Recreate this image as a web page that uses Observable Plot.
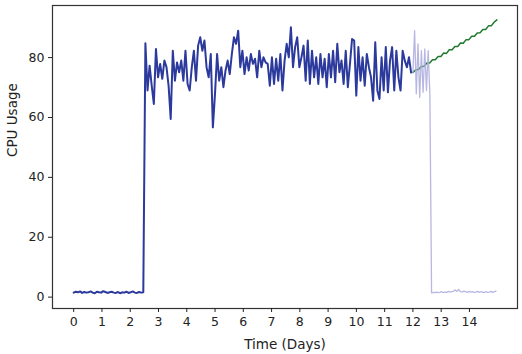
<!DOCTYPE html>
<html>
<head>
<meta charset="utf-8">
<script src="https://cdn.jsdelivr.net/npm/d3@7"></script>
<script src="https://cdn.jsdelivr.net/npm/@observablehq/plot@0.6"></script>
<style>
  html, body { margin: 0; padding: 0; background: #fff; }
  #chart { width: 522px; height: 354px; }
</style>
</head>
<body>
<div id="chart"></div>
<script>
// Observed CPU usage (blue), sampled every blueStep days starting at day 0
const blueStart = 0;
const blueStep = 0.0746;
const blueValues = [
  1.5,1.8,1.6,1.9,1.4,1.7,1.5,1.6,1.9,1.5,1.3,1.8,1.6,1.5,2.0,1.7,1.4,1.6,1.8,1.5,1.4,1.7,1.3,1.6,1.5,1.8,1.4,1.6,1.9,1.5,1.4,1.7,1.5,1.6,
  84.8,69.0,77.3,70.6,64.5,82.9,73.4,77.9,72.9,79.0,76.8,70.6,59.5,82.3,72.3,78.4,75.1,79.0,72.3,82.3,
  71.2,69.0,76.8,82.3,72.3,84.0,86.8,82.3,85.7,76.8,73.4,81.2,56.7,67.9,81.2,72.3,76.8,70.1,75.7,79.0,
  74.5,81.2,86.8,84.6,89.0,76.8,82.3,74.5,80.1,75.7,81.2,77.9,79.6,73.4,82.3,76.8,80.1,78.4,77.9,70.6,
  80.1,71.2,79.6,72.3,81.2,69.0,79.0,84.6,80.1,90.1,76.8,83.5,86.8,76.8,80.1,84.0,72.3,85.7,71.2,82.3,
  73.4,80.1,71.2,81.2,73.4,79.6,70.1,81.2,73.4,82.3,71.8,84.6,75.1,79.0,71.2,82.3,70.1,77.9,86.2,85.7,
  67.3,83.5,72.3,80.1,70.6,81.2,76.8,73.4,65.6,85.1,69.0,66.2,80.1,69.0,83.5,68.4,79.0,83.5,69.0,82.3,
  73.4,69.0,82.3,79.0,76.8,80.1,75.0
];

// Held-out actual usage (light lavender), sampled every lavStep days from day 12
const lavStart = 12.0;
const lavStep = 0.06;
const lavValues = [
  75.0,89.0,67.9,84.6,66.7,82.3,68.4,82.9,69.0,82.3,67.9,
  1.4,1.6,1.5,1.7,1.5,1.6,1.8,1.5,1.7,1.6,1.9,1.7,1.8,2.0,2.4,1.9,2.6,1.8,1.7,2.0,
  1.8,1.6,1.9,1.7,1.8,1.6,1.7,1.9,1.6,1.8,1.7,1.5,1.8,1.6,1.7,1.9,1.6,1.8,2.0
];

// Forecast (green), sampled every greenStep days from day 12
const greenStart = 12.0;
const greenStep = 0.099;
const greenValues = [
  75.0,75.9,76.0,77.0,77.1,78.2,78.2,79.3,79.3,80.4,80.4,81.5,81.4,82.6,82.6,83.7,
  83.7,84.9,84.8,86.0,86.0,87.1,87.1,88.2,88.3,89.4,89.4,90.6,90.6,91.8,92.6
];

const xTicks = [0,1,2,3,4,5,6,7,8,9,10,11,12,13,14];
const yTicks = [0,20,40,60,80];

const toRows = (start, step, vals) => vals.map((v, i) => ({t: start + i * step, v}));
const blue = toRows(blueStart, blueStep, blueValues);
const lav = toRows(lavStart, lavStep, lavValues);
const green = toRows(greenStart, greenStep, greenValues);

const plot = Plot.plot({
  width: 522,
  height: 354,
  marginLeft: 52,
  marginRight: 5,
  marginTop: 5,
  marginBottom: 46,
  style: {fontFamily: "DejaVu Sans, sans-serif", fontSize: "12.5px", color: "#222", background: "#fff"},
  x: {domain: [-0.75, 15.7]},
  y: {domain: [-3.8, 97.4]},
  marks: [
    Plot.frame({stroke: "#333", strokeWidth: 1.2}),
    Plot.axisX({ticks: xTicks, tickSize: 4, tickPadding: 5, fontSize: 12.5, label: null}),
    Plot.axisY({ticks: yTicks, tickSize: 4, tickPadding: 4, fontSize: 12.5, label: null}),
    Plot.text(["Time (Days)"], {frameAnchor: "bottom", dy: 40, fontSize: 13.5, text: d => d}),
    Plot.text(["CPU Usage"], {frameAnchor: "left", dx: -40, rotate: -90, fontSize: 13.5, text: d => d}),
    Plot.line(green, {x: "t", y: "v", stroke: "#1e7a2e", strokeWidth: 1.5}),
    Plot.line(lav, {x: "t", y: "v", stroke: "#aaaadd", strokeWidth: 1.3, strokeOpacity: 0.85}),
    Plot.line(blue, {x: "t", y: "v", stroke: "#2b3a9c", strokeWidth: 2})
  ]
});
document.getElementById("chart").appendChild(plot);
</script>
</body>
</html>
